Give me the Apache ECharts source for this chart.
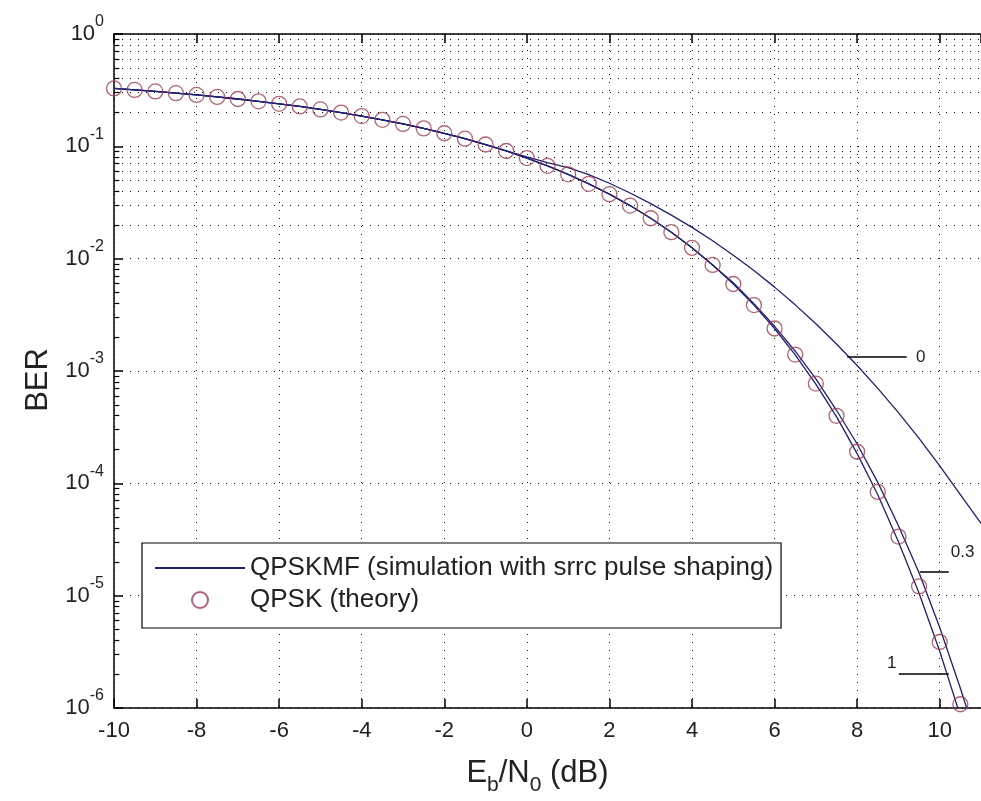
<!DOCTYPE html>
<html><head><meta charset="utf-8">
<script src="https://cdn.jsdelivr.net/npm/echarts@6/dist/echarts.min.js"></script>
<style>html,body{margin:0;padding:0;background:#fff}#c{width:981px;height:801px}</style>
</head><body><div id="c"></div>
<script>
// Theory points (circles)
const ebn0 = [-10,-9.5,-9,-8.5,-8,-7.5,-7,-6.5,-6,-5.5,-5,-4.5,-4,-3.5,-3,-2.5,-2,-1.5,-1,-0.5,0,0.5,1,1.5,2,2.5,3,3.5,4,4.5,5,5.5,6,6.5,7,7.5,8,8.5,9,9.5,10,10.5];
const theoryBER = [0.3274,0.3179,0.3079,0.2975,0.2867,0.2755,0.2638,0.2517,0.2392,0.2264,0.2132,0.1998,0.1861,0.1723,0.1584,0.1445,0.1307,0.1170,0.1038,0.0909,0.0786,0.0671,0.0563,0.0464,0.0375,0.0297,0.0229,0.0172,0.0125,0.00879,0.00595,0.00386,0.00239,0.00140,0.000773,0.000399,0.000191,0.0000839,0.0000336,0.0000121,0.00000387,0.00000108];
// Simulated curves (roll-off 0, 0.3, 1)
const simEbN0 = [-10,-9.5,-9,-8.5,-8,-7.5,-7,-6.5,-6,-5.5,-5,-4.5,-4,-3.5,-3,-2.5,-2,-1.5,-1,-0.5,0,0.5,1,1.5,2,2.5,3,3.5,4,4.5,5,5.5,6,6.5,7,7.5,8,8.5,9,9.5,10,10.5,11];
const berRolloff0 = [0.3274,0.3179,0.3079,0.2975,0.2867,0.2755,0.2638,0.2517,0.2392,0.2264,0.2132,0.1998,0.1861,0.1723,0.1584,0.1445,0.1307,0.1170,0.1038,0.0910,0.0804,0.0716,0.0646,0.0560,0.0469,0.0384,0.0309,0.0244,0.0190,0.01445,0.01074,0.00783,0.00558,0.00388,0.00263,0.00174,0.00112,0.000700,0.000426,0.000251,0.000143,0.0000794,0.0000440];
const berRolloff03 = [0.3274,0.3179,0.3079,0.2975,0.2867,0.2755,0.2638,0.2517,0.2392,0.2264,0.2132,0.1998,0.1861,0.1723,0.1584,0.1445,0.1307,0.1170,0.1038,0.0909,0.0786,0.0671,0.0563,0.0464,0.0375,0.0297,0.0229,0.0172,0.0125,0.00879,0.00610,0.00398,0.00250,0.00150,0.000850,0.000447,0.000224,0.000102,0.0000420,0.0000160,0.00000520,0.00000150,0.00000040];
const berRolloff1 = [0.3274,0.3179,0.3079,0.2975,0.2867,0.2755,0.2638,0.2517,0.2392,0.2264,0.2132,0.1998,0.1861,0.1723,0.1584,0.1445,0.1307,0.1170,0.1038,0.0909,0.0786,0.0671,0.0563,0.0464,0.0375,0.0297,0.0229,0.0172,0.0125,0.00879,0.00595,0.00386,0.00239,0.00139,0.000765,0.000392,0.000184,0.0000790,0.0000302,0.0000105,0.00000320,0.00000085,0.00000020];
// Annotation labels (roll-off factors) and their leader lines in data coords
const annotText = ['0','0.3','1'];
const annotLine = [[[7.76,1.33e-3],[9.20,1.33e-3]], [[9.52,1.62e-5],[10.22,1.62e-5]], [[9.01,2.0e-6],[10.22,2.0e-6]]];
const annotPos = [[9.54,1.33e-3],[10.555,2.44e-5],[8.84,2.5e-6]];
const decades = [-6,-5,-4,-3,-2,-1];
const minorMant = [2,3,4,5,6,7,8,9];

const simName = 'QPSKMF (simulation with srrc pulse shaping)';
const theoryName = 'QPSK (theory)';
const lineColor = '#1f1f74';
const markerColor = '#9c3c52';
const FONT = '"Liberation Sans", Arial, sans-serif';

const minorVals = [];
decades.forEach(d => minorMant.forEach(m => minorVals.push(m * Math.pow(10, d))));
const minorGrid = minorVals.map(v => ({yAxis: v}));
const minorTicks = minorVals.map(v => [{coord: [-10, v]}, {coord: [-9.87, v]}]);
const dotted = {color: '#111', width: 1, type: [1, 7]};

const chart = echarts.init(document.getElementById('c'), null, {renderer: 'canvas'});
const pair = (xs, ys) => xs.map((x, i) => [x, ys[i]]);
const annotMarkLines = annotLine.map(l => [{coord: l[0]}, {coord: l[1]}]);

const option = {
  animation: false,
  backgroundColor: '#fff',
  textStyle: {fontFamily: FONT},
  grid: {left: 114, top: 34, right: -4, bottom: 93, containLabel: false},
  legend: {
    orient: 'vertical', left: 142, top: 543,
    backgroundColor: '#fff', borderColor: '#000', borderWidth: 1.2, borderRadius: 0,
    padding: [12, 8, 15, 12], itemGap: 6, itemWidth: 90, itemHeight: 16,
    textStyle: {fontSize: 26, color: '#222', fontFamily: FONT},
    data: [{name: simName, itemStyle: {color: 'rgba(0,0,0,0)', borderColor: 'rgba(0,0,0,0)', borderWidth: 0}},
           {name: theoryName}],
    selectedMode: false
  },
  xAxis: [{
    type: 'value', min: -10, max: 11, interval: 2,
    name: '{n|E}{sub|b}{n|/N}{sub|0}{n| (dB)}',
    nameLocation: 'middle', nameGap: 50,
    nameTextStyle: {padding: [0, 20, 0, 0], rich: {
      n: {fontSize: 31, color: '#222', fontFamily: FONT, lineHeight: 36, verticalAlign: 'top'},
      sub: {fontSize: 21, color: '#222', fontFamily: FONT, lineHeight: 22, padding: [19, 0, 0, 0]}
    }},
    axisLine: {onZero: false, lineStyle: {color: '#000', width: 1.5}},
    axisTick: {inside: true, length: 9, lineStyle: {color: '#000', width: 1.5}},
    axisLabel: {fontSize: 22, color: '#222', margin: 12, showMaxLabel: false,
      formatter: v => (Math.abs(v % 2) < 1e-9 && v <= 10) ? String(v) : ''},
    splitLine: {show: true, lineStyle: dotted}
  }, {
    type: 'value', position: 'top', min: -10, max: 11, interval: 2,
    axisLine: {show: true, onZero: false, lineStyle: {color: '#000', width: 1.5}},
    axisTick: {show: true, inside: true, length: 9, lineStyle: {color: '#000', width: 1.5}},
    axisLabel: {show: false}, splitLine: {show: false}
  }],
  yAxis: {
    type: 'log', logBase: 10, min: 1e-6, max: 1,
    name: 'BER', nameLocation: 'middle', nameGap: 58, nameRotate: 90,
    nameTextStyle: {fontSize: 31, color: '#222', fontFamily: FONT, padding: [0, 18, 0, 0]},
    axisLine: {show: true, onZero: false, lineStyle: {color: '#000', width: 1.5}},
    axisTick: {inside: true, length: 9, lineStyle: {color: '#000', width: 1.5}},
    axisLabel: {margin: 10, formatter: v => '{b|10}{s|' + Math.round(Math.log10(v)) + '}',
      rich: {
        b: {fontSize: 22, color: '#222', fontFamily: FONT, lineHeight: 40},
        s: {fontSize: 16, color: '#222', fontFamily: FONT, lineHeight: 15, verticalAlign: 'top'}
      }},
    splitLine: {show: true, lineStyle: dotted}
  },
  series: [
    {type: 'line', name: simName, data: pair(simEbN0, berRolloff0), symbol: 'none', z: 3,
     lineStyle: {color: lineColor, width: 1.3}, itemStyle: {color: lineColor}, clip: true,
     markLine: {silent: true, symbol: ['none', 'none'], label: {show: false}, animation: false,
       lineStyle: {color: '#000', width: 1.5, type: 'solid'}, data: annotMarkLines}},
    {type: 'line', name: simName, data: pair(simEbN0, berRolloff03), symbol: 'none', z: 3,
     lineStyle: {color: lineColor, width: 1.3}, itemStyle: {color: lineColor}, clip: true},
    {type: 'line', name: simName, data: pair(simEbN0, berRolloff1), symbol: 'none', z: 3,
     lineStyle: {color: lineColor, width: 1.3}, itemStyle: {color: lineColor}, clip: true},
    {type: 'scatter', name: theoryName, data: pair(ebn0, theoryBER), symbol: 'circle', symbolSize: 15, z: 4,
     itemStyle: {color: 'rgba(0,0,0,0)', borderColor: markerColor, borderWidth: 1.3},
     markLine: {silent: true, symbol: ['none', 'none'], label: {show: false}, animation: false, z: 1,
       lineStyle: dotted, data: minorGrid}},
    {type: 'line', name: '_ticks', data: [], symbol: 'none',
     markLine: {silent: true, symbol: ['none', 'none'], label: {show: false}, animation: false,
       lineStyle: {color: '#000', width: 1.2, type: 'solid'}, data: minorTicks}}
  ]
};
chart.setOption(option);

const texts = annotPos.map((p, i) => {
  const px = chart.convertToPixel({gridIndex: 0}, p);
  return {type: 'text', x: px[0], y: px[1], z: 10,
    style: {text: annotText[i], fontSize: 17, fill: '#222', fontFamily: FONT, align: 'center', verticalAlign: 'middle'}};
});
chart.setOption({graphic: texts});
</script></body></html>
